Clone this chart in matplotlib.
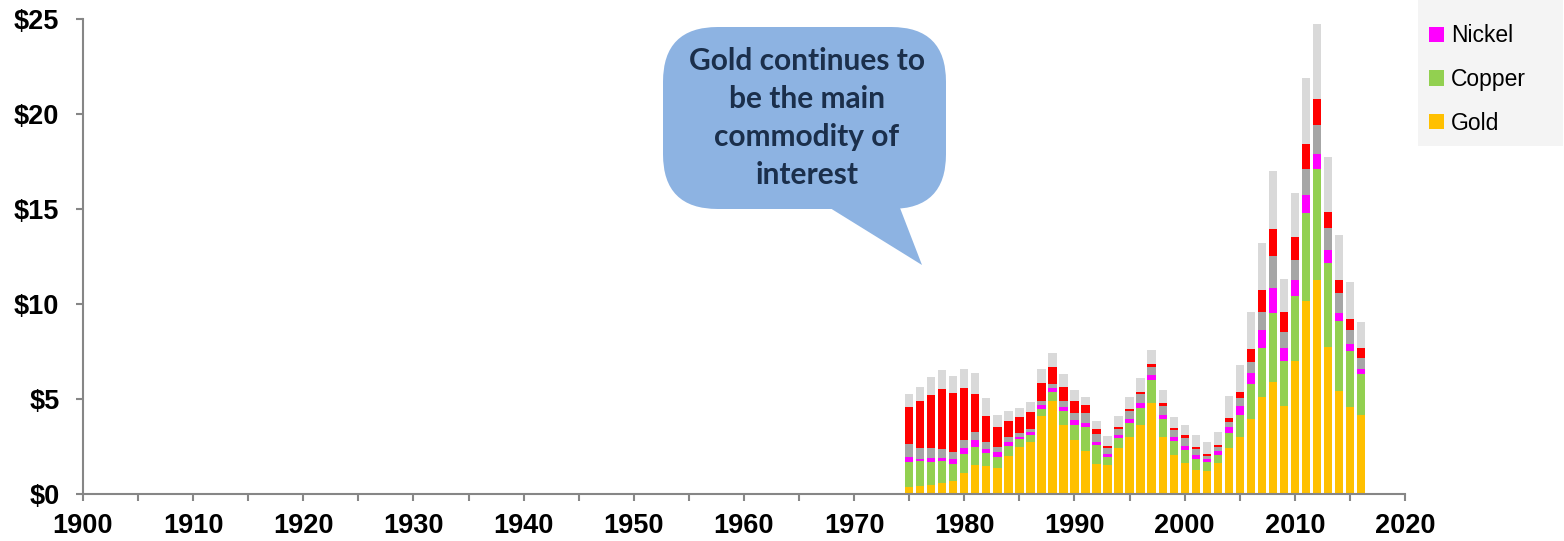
import matplotlib.pyplot as plt
import numpy as np
from matplotlib.patches import FancyBboxPatch, Polygon, Patch

plt.rcParams['font.family'] = ['Liberation Sans', 'DejaVu Sans']

years = list(range(1975, 2017))

gold = [0.37, 0.42, 0.49, 0.56, 0.68, 1.09, 1.51, 1.46, 1.35, 1.98,
        2.46, 2.72, 4.09, 4.89, 3.63, 2.84, 2.25, 1.58, 1.51, 2.42,
        2.98, 3.65, 4.79, 2.98, 2.04, 1.63, 1.28, 1.21, 1.61, 2.44,
        3.02, 3.96, 5.09, 5.88, 4.63, 7.00, 10.14, 11.26, 7.74, 5.42,
        4.60, 4.16]
copper = [1.30, 1.30, 1.21, 1.16, 0.90, 1.02, 0.96, 0.70, 0.58, 0.53,
          0.42, 0.37, 0.38, 0.48, 0.72, 0.79, 1.26, 0.98, 0.44, 0.53,
          0.76, 0.88, 1.19, 0.97, 0.77, 0.69, 0.58, 0.46, 0.46, 0.79,
          1.14, 1.83, 2.58, 3.63, 2.37, 3.42, 4.67, 5.84, 4.43, 3.67,
          2.93, 2.17]
nickel = [0.29, 0.14, 0.21, 0.19, 0.26, 0.29, 0.39, 0.23, 0.30, 0.24,
          0.14, 0.16, 0.23, 0.23, 0.21, 0.28, 0.23, 0.19, 0.17, 0.16,
          0.21, 0.26, 0.27, 0.23, 0.19, 0.22, 0.19, 0.19, 0.21, 0.28,
          0.49, 0.56, 0.98, 1.31, 0.70, 0.86, 0.91, 0.79, 0.69, 0.45,
          0.35, 0.27]
lead_zinc = [0.67, 0.56, 0.49, 0.46, 0.39, 0.44, 0.40, 0.33, 0.24, 0.23,
             0.19, 0.15, 0.19, 0.19, 0.33, 0.35, 0.52, 0.43, 0.28, 0.31,
             0.44, 0.46, 0.43, 0.43, 0.39, 0.42, 0.30, 0.14, 0.19, 0.30,
             0.39, 0.60, 0.95, 1.69, 0.81, 1.04, 1.38, 1.53, 1.12, 1.02,
             0.75, 0.58]
uranium = [1.93, 2.46, 2.81, 3.17, 3.09, 2.72, 2.00, 1.40, 1.07, 0.88,
           0.83, 0.90, 0.97, 0.89, 0.76, 0.63, 0.41, 0.22, 0.14, 0.11,
           0.10, 0.14, 0.18, 0.16, 0.10, 0.13, 0.12, 0.11, 0.09, 0.21,
           0.33, 0.68, 1.15, 1.42, 1.07, 1.21, 1.34, 1.35, 0.88, 0.72,
           0.60, 0.50]
other = [0.69, 0.75, 0.93, 0.99, 0.91, 1.02, 1.13, 0.92, 0.64, 0.53,
         0.49, 0.56, 0.70, 0.72, 0.65, 0.58, 0.44, 0.42, 0.51, 0.56,
         0.63, 0.70, 0.72, 0.69, 0.56, 0.54, 0.64, 0.61, 0.72, 1.14,
         1.42, 1.95, 2.46, 3.07, 1.74, 2.31, 3.46, 3.95, 2.88, 2.33,
         1.91, 1.36]

series = [("Gold", gold, '#FFC000'),
          ("Copper", copper, '#92D050'),
          ("Nickel", nickel, '#FF00FF'),
          ("Lead/Zinc", lead_zinc, '#A6A6A6'),
          ("Uranium", uranium, '#FF0000'),
          ("Other", other, '#D9D9D9')]

fig = plt.figure(figsize=(15.64, 5.41), dpi=100)
ax = fig.add_axes([83/1564, 1 - 494/541, (1405-83)/1564, (494-19)/541])

bottom = np.zeros(len(years))
handles = []
for name, vals, col in series:
    ax.bar(years, vals, bottom=bottom, width=0.75, color=col, linewidth=0)
    bottom += np.array(vals)
    handles.append(Patch(facecolor=col, label=name))

ax.set_xlim(1900, 2020)
ax.set_ylim(0, 25)
ax.set_xticks(range(1900, 2021, 10))
ax.set_xticks(range(1905, 2020, 10), minor=True)
ax.set_yticks(range(0, 26, 5))
ax.set_yticklabels(["$%d" % v for v in range(0, 26, 5)])

for s in ['top', 'right']:
    ax.spines[s].set_visible(False)
for s in ['left', 'bottom']:
    ax.spines[s].set_color('#868686')
    ax.spines[s].set_linewidth(1.5)
ax.tick_params(axis='both', which='both', color='#868686', width=1.5, length=5,
               labelsize=19.5)
ax.tick_params(axis='x', pad=9)
ax.tick_params(axis='y', pad=12)
for lab in ax.get_xticklabels() + ax.get_yticklabels():
    lab.set_fontweight('bold')

# callout bubble
trans = fig.transFigure
def fx(px):
    return px / 1564
def fy(py):
    return 1 - py / 541
box = FancyBboxPatch((fx(663), fy(209)), fx(946) - fx(663), fy(27) - fy(209),
                     boxstyle="round,pad=0,rounding_size=0.035",
                     mutation_aspect=1564/541,
                     transform=trans, facecolor='#8DB3E2', edgecolor='none')
fig.patches.append(box)
tail = Polygon([(fx(830), fy(208)), (fx(900), fy(208)), (fx(922), fy(265))],
               closed=True, transform=trans, facecolor='#8DB3E2', edgecolor='none')
fig.patches.append(tail)
fig.text(fx(807), fy(118), "Gold continues to\nbe the main\ncommodity of\ninterest",
         ha='center', va='center', fontsize=21.5, fontweight='bold',
         color='#1B2F4B', family=['Lato', 'DejaVu Sans'], linespacing=1.43)

leg = fig.legend(handles=handles[::-1], loc='lower left',
                 bbox_to_anchor=(fx(1418), fy(146)), bbox_transform=trans,
                 fontsize=16.5, frameon=True, fancybox=False,
                 handlelength=0.65, handleheight=0.65, handletextpad=0.3,
                 labelspacing=0.9, borderpad=0.5, borderaxespad=0)
leg.get_frame().set_facecolor('#F2F2F2')
leg.get_frame().set_edgecolor('none')

plt.savefig("out.png", dpi=100)
